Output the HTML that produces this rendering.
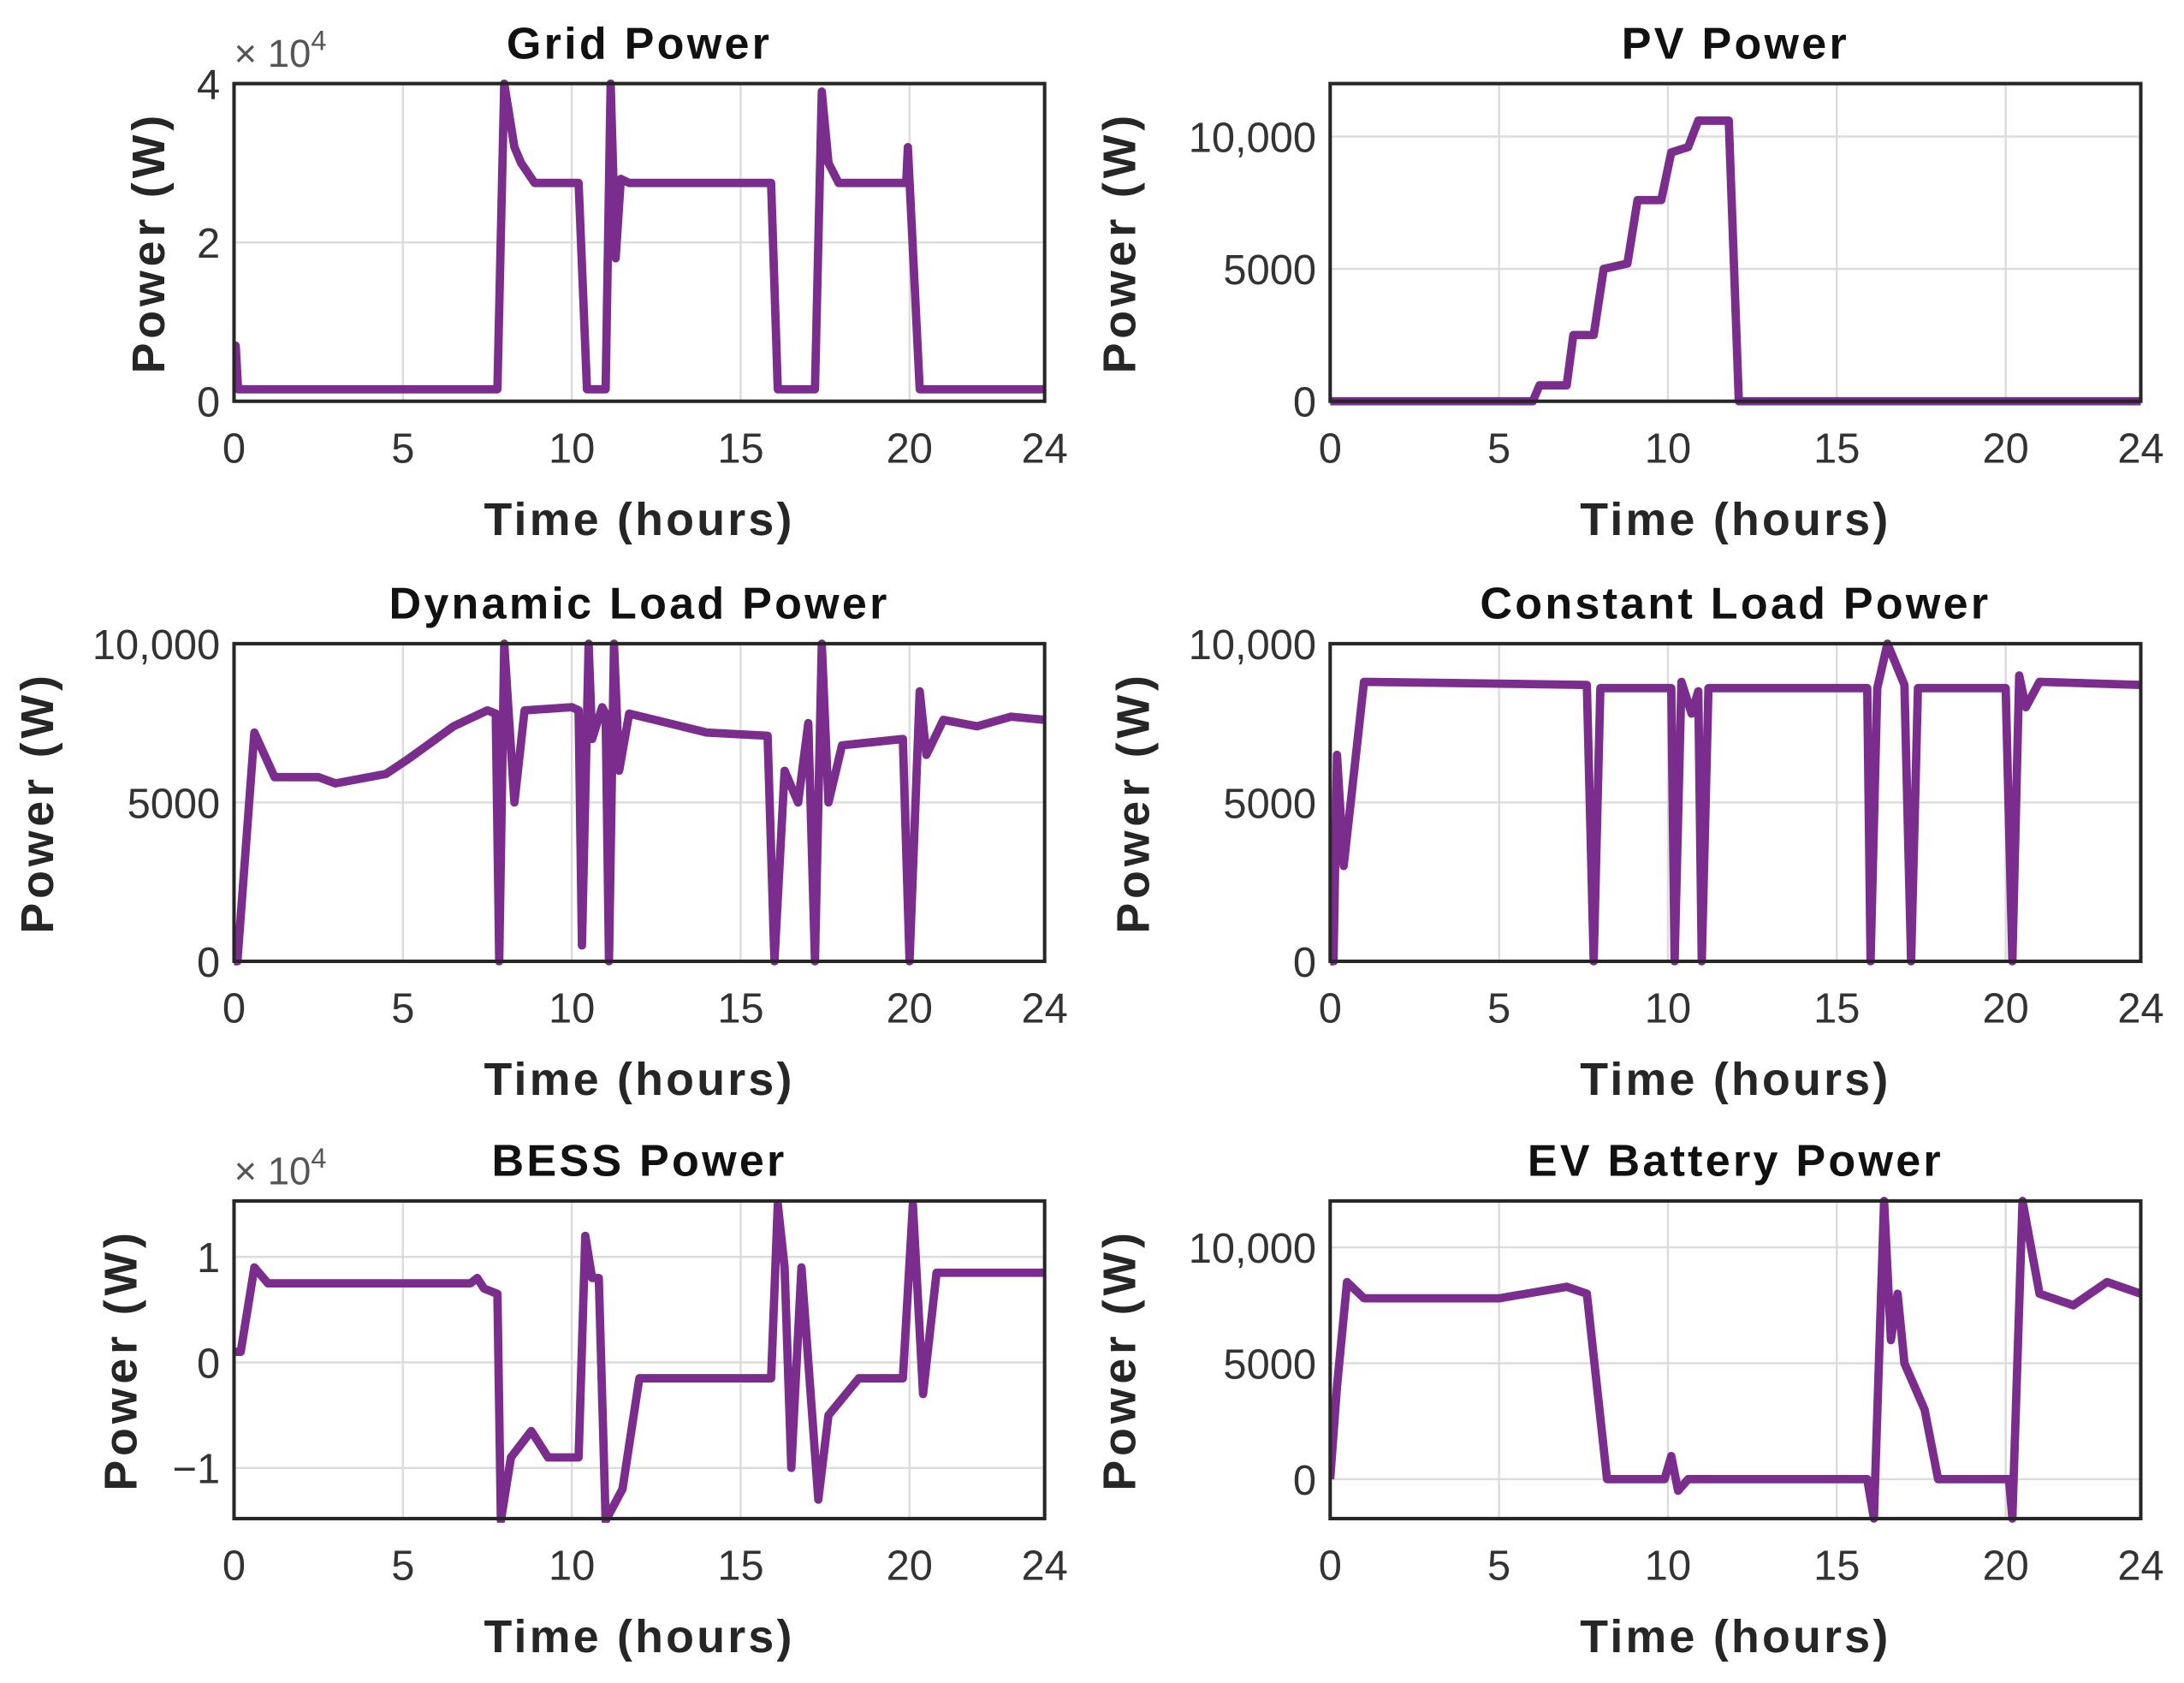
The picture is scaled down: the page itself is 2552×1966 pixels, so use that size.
<!DOCTYPE html>
<html><head><meta charset="utf-8"><style>
html,body{margin:0;padding:0;background:#fff;}
svg{display:block;}
text{font-family:"Liberation Sans",sans-serif;}
</style></head><body>
<svg id="fig" width="2552" height="1966" viewBox="0 0 1568 1208" xmlns="http://www.w3.org/2000/svg"></svg>
<script>
// ---- data ----
const xTicks = [0,5,10,15,20,24];
const gridT = [0,0.05,0.12,0.2,7.8,8.0,8.3,8.5,8.9,10.2,10.45,11.0,11.15,11.3,11.45,11.7,15.9,16.1,17.2,17.4,17.6,17.9,19.9,19.95,20.3,24];
const gridV = [0.7,0.7,0.15,0.15,0.15,4.0,3.2,3.0,2.75,2.75,0.15,0.15,4.0,1.8,2.8,2.75,2.75,0.15,0.15,3.9,3.0,2.75,2.75,3.2,0.15,0.15];
const pvT = [0,6.0,6.2,7.0,7.2,7.8,8.1,8.8,9.1,9.8,10.1,10.6,10.9,11.8,12.1,24];
const pvV = [0,0,600,600,2500,2500,5000,5200,7600,7600,9400,9600,10600,10600,0,0];
const dynT = [0,0.1,0.6,1.2,2.5,3.0,4.5,5.2,6.5,7.5,7.75,7.85,8.0,8.3,8.6,10.0,10.2,10.3,10.5,10.6,10.9,11.0,11.1,11.25,11.4,11.7,14,15.8,16.0,16.3,16.7,17.0,17.2,17.4,17.6,18.0,19.8,20.0,20.3,20.5,21,22,23,24];
const dynV = [0,0,7200,5800,5800,5600,5900,6400,7400,7900,7800,0,10000,5000,7900,8000,7900,500,10000,7000,8000,7800,0,10000,6000,7800,7200,7100,0,6000,5000,7500,0,10000,5000,6800,7000,0,8500,6500,7600,7400,7700,7600];
const conT = [0,0.1,0.2,0.4,1.0,7.6,7.8,8.0,10.1,10.2,10.4,10.7,10.9,11.0,11.2,15.9,16.0,16.2,16.5,17.0,17.2,17.4,20.0,20.2,20.4,20.6,21,24];
const conV = [0,0,6500,3000,8800,8700,0,8600,8600,0,8800,7800,8500,0,8600,8600,0,8600,10000,8700,0,8600,8600,0,9000,8000,8800,8700];
const bessT = [0,0.2,0.6,1.0,7.0,7.2,7.4,7.8,7.9,8.2,8.8,9.3,10.2,10.4,10.6,10.8,11.0,11.5,12.0,15.9,16.1,16.3,16.5,16.8,17.3,17.6,18.5,19.8,20.1,20.4,20.8,24];
const bessV = [0.1,0.1,0.9,0.75,0.75,0.8,0.7,0.65,-1.5,-0.9,-0.65,-0.9,-0.9,1.2,0.8,0.8,-1.5,-1.2,-0.15,-0.15,1.5,0.9,-1.0,0.9,-1.3,-0.5,-0.15,-0.15,1.5,-0.3,0.85,0.85];
const evT = [0,0.2,0.5,1.0,5.0,7.0,7.6,8.2,9.9,10.1,10.3,10.6,15.9,16.1,16.4,16.6,16.8,17.0,17.6,18.0,20.1,20.2,20.5,21,22,23,24];
const evV = [0,4000,8500,7800,7800,8300,8000,0,0,1000,-500,0,0,-1700,12000,6000,8000,5000,3000,0,0,-1700,12000,8000,7500,8500,8000];

const gridYTicks=[0,2,4], gridYLabels=["0","2","4"];
const pvYTicks=[0,5000,10000], pvYLabels=["0","5000","10,000"];
const loadYTicks=[0,5000,10000], loadYLabels=["0","5000","10,000"];
const bessYTicks=[-1,0,1], bessYLabels=["\u22121","0","1"];
const evYTicks=[0,5000,10000], evYLabels=["0","5000","10,000"];

const NS="http://www.w3.org/2000/svg";
const svg=document.getElementById('fig');
function mk(tag,attrs,parent){const e=document.createElementNS(NS,tag);for(const k in attrs)e.setAttribute(k,attrs[k]);(parent||svg).appendChild(e);return e;}

const panels=[
 {name:'grid',title:'Grid Power',x0:168,y0:60,ymin:0,ymax:4,ticks:gridYTicks,labels:gridYLabels,T:gridT,V:gridV,exp:true,ylx:118},
 {name:'pv',title:'PV Power',x0:955,y0:60,ymin:0,ymax:12000,ticks:pvYTicks,labels:pvYLabels,T:pvT,V:pvV,ylx:815},
 {name:'dynamic-load',title:'Dynamic Load Power',x0:168,y0:462,ymin:0,ymax:10000,ticks:loadYTicks,labels:loadYLabels,T:dynT,V:dynV,ylx:38},
 {name:'constant-load',title:'Constant Load Power',x0:955,y0:462,ymin:0,ymax:10000,ticks:loadYTicks,labels:loadYLabels,T:conT,V:conV,ylx:825},
 {name:'bess',title:'BESS Power',x0:168,y0:862,ymin:-1.48,ymax:1.53,ticks:bessYTicks,labels:bessYLabels,T:bessT,V:bessV,exp:true,ylx:98},
 {name:'ev',title:'EV Battery Power',x0:955,y0:862,ymin:-1700,ymax:12000,ticks:evYTicks,labels:evYLabels,T:evT,V:evV,ylx:815},
];
const W=582,H=228;
panels.forEach((p,i)=>{
 const g=mk('g',{});
 
 
 const xs=t=>p.x0+t/24*W;
 const ys=v=>p.y0+H-(v-p.ymin)/(p.ymax-p.ymin)*H;
 mk('rect',{x:p.x0,y:p.y0,width:W,height:H,fill:'#fff'},g);
 xTicks.forEach(t=>{
  const l=mk('line',{x1:xs(t),x2:xs(t),y1:p.y0,y2:p.y0+H,stroke:'#dcdcdc','stroke-width':1.5},g);
  
  
  const tx=mk('text',{x:xs(t),y:p.y0+H+44,'text-anchor':'middle','font-size':30,fill:'#333'},g);
  tx.textContent=t;
  
  
 });
 p.ticks.forEach((v,k)=>{
  const l=mk('line',{x1:p.x0,x2:p.x0+W,y1:ys(v),y2:ys(v),stroke:'#dcdcdc','stroke-width':1.5},g);
  
  
  const tx=mk('text',{x:p.x0-10,y:ys(v)+11,'text-anchor':'end','font-size':30,fill:'#333'},g);
  tx.textContent=p.labels[k];
  
  
 });
 const cid='clip'+i;
 const cp=mk('clipPath',{id:cid},g);
 mk('rect',{x:p.x0,y:p.y0-3,width:W+6,height:H+6},cp);
 let d='';
 p.T.forEach((t,k)=>{d+=(k?'L':'M')+xs(t).toFixed(1)+','+ys(p.V[k]).toFixed(1);});
 const path=mk('path',{d:d,fill:'none',stroke:'#7b2d8e','stroke-width':6,'stroke-linejoin':'round','clip-path':'url(#'+cid+')'},g);
 
 
 const fr=mk('rect',{x:p.x0,y:p.y0,width:W,height:H,fill:'none',stroke:'#262626','stroke-width':2.5},g);
 
 
 const ti=mk('text',{x:p.x0+W/2,y:p.y0-18,'text-anchor':'middle','font-size':32,'font-weight':'bold',fill:'#111','letter-spacing':2},g);
 ti.textContent=p.title;
 
 
 const xl=mk('text',{x:p.x0+W/2,y:p.y0+H+96,'text-anchor':'middle','font-size':33,'font-weight':'bold',fill:'#262626','letter-spacing':2},g);
 xl.textContent='Time (hours)';
 
 
 const cy=p.y0+H/2;
 const yl=mk('text',{x:p.ylx,y:cy,'text-anchor':'middle','font-size':33,'font-weight':'bold',fill:'#262626','letter-spacing':3,transform:'rotate(-90 '+p.ylx+' '+cy+')'},g);
 yl.textContent='Power (W)';
 
 
 if(p.exp){
  const ex=mk('text',{x:p.x0,y:p.y0-12,'font-size':28,fill:'#555'},g);
  ex.innerHTML='\u00d7 10<tspan dy="-12" font-size="20">4</tspan>';
  
  
 }
});
</script>
</body></html>
